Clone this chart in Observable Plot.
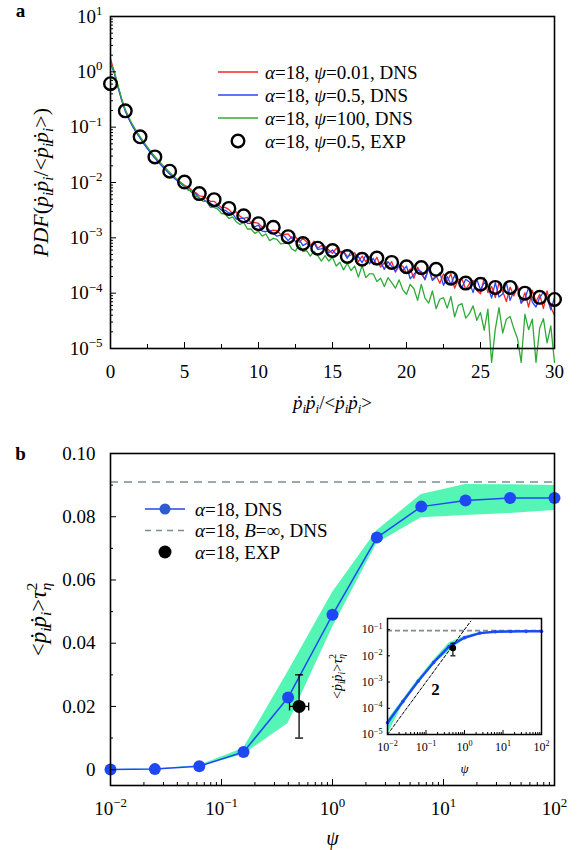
<!DOCTYPE html>
<html><head><meta charset="utf-8">
<script src="https://cdn.jsdelivr.net/npm/d3@7"></script>
<script src="https://cdn.jsdelivr.net/npm/@observablehq/plot@0.6"></script>
<style>
body{margin:0;background:#fff;}
#fig{position:relative;width:582px;height:850px;background:#fff;font-family:"Liberation Serif","Times New Roman",serif;}
#fig svg{position:absolute;overflow:visible;}
</style></head><body><div id="fig"></div>
<script>
// ---------- Panel a data ----------
const pdfX = [0,0.25,0.5,0.75,1,1.25,1.5,1.75,2,2.25,2.5,2.75,3,3.25,3.5,3.75,4,4.25,4.5,4.75,5,5.25,5.5,5.75,6,6.25,6.5,6.75,7,7.25,7.5,7.75,8,8.25,8.5,8.75,9,9.25,9.5,9.75,10,10.25,10.5,10.75,11,11.25,11.5,11.75,12,12.25,12.5,12.75,13,13.25,13.5,13.75,14,14.25,14.5,14.75,15,15.25,15.5,15.75,16,16.25,16.5,16.75,17,17.25,17.5,17.75,18,18.25,18.5,18.75,19,19.25,19.5,19.75,20,20.25,20.5,20.75,21,21.25,21.5,21.75,22,22.25,22.5,22.75,23,23.25,23.5,23.75,24,24.25,24.5,24.75,25,25.25,25.5,25.75,26,26.25,26.5,26.75,27,27.25,27.5,27.75,28,28.25,28.5,28.75,29,29.25,29.5,29.75,30];
// log10 of PDF
const pdfRedLog10 = [0.24,0.00,-0.26,-0.50,-0.70,-0.85,-0.98,-1.09,-1.19,-1.29,-1.38,-1.47,-1.55,-1.62,-1.69,-1.76,-1.83,-1.89,-1.95,-2.00,-2.05,
-2.08,-2.14,-2.18,-2.24, -2.25,-2.29,-2.34,-2.34, -2.40,-2.45,-2.45,-2.49, -2.56,-2.53,-2.61,-2.65, -2.63,-2.74,-2.72,-2.74,
-2.81,-2.78,-2.88,-2.86, -2.87,-2.94,-2.94,-2.93, -3.01,-2.98,-3.08,-3.01, -3.07,-3.14,-3.06,-3.19, -3.14,-3.15,-3.22,-3.28,
-3.19,-3.27,-3.24,-3.34, -3.31,-3.27,-3.43,-3.33, -3.43,-3.34,-3.47,-3.35, -3.53,-3.45,-3.52,-3.43, -3.62,-3.50,-3.51,-3.64,
-3.56,-3.73,-3.53,-3.66, -3.74,-3.55,-3.76,-3.68, -3.82,-3.65,-3.79,-3.65, -3.91,-3.75,-3.75,-3.93, -3.83,-3.77,-3.95,-4.01,
-3.72,-3.99,-3.88,-4.08, -3.82,-3.97,-4.15,-3.89, -4.05,-3.87,-4.18,-3.99, -4.25,-3.95,-4.15,-4.02, -4.28,-3.96,-4.26,-4.40];
const pdfBlueLog10 = [0.15,-0.02,-0.27,-0.51,-0.71,-0.86,-0.99,-1.10,-1.20,-1.30,-1.39,-1.48,-1.56,-1.64,-1.71,-1.78,-1.85,-1.91,-1.97,-2.02,-2.07,
-2.12,-2.18,-2.20,-2.29, -2.30,-2.35,-2.37,-2.43, -2.44,-2.50,-2.50,-2.55, -2.56,-2.66,-2.65,-2.65, -2.74,-2.74,-2.80,-2.77,
-2.88,-2.89,-2.86,-2.92, -2.97,-2.95,-2.97,-3.05, -2.98,-3.07,-3.03,-3.14, -3.10,-3.16,-3.09,-3.21, -3.20,-3.16,-3.27,-3.22,
-3.30,-3.24,-3.26,-3.37, -3.25,-3.38,-3.34,-3.45, -3.31,-3.47,-3.37,-3.49, -3.43,-3.57,-3.43,-3.51, -3.60,-3.51,-3.59,-3.51,
-3.74,-3.66,-3.58,-3.61, -3.76,-3.55,-3.77,-3.71, -3.63,-3.86,-3.70,-3.84, -3.68,-3.81,-3.90,-3.75, -3.80,-3.99,-3.75,-3.94,
-3.81,-3.88,-4.09,-3.81, -4.07,-4.01,-3.81,-4.13, -3.96,-3.91,-4.18,-4.10, -3.90,-4.16,-4.25,-4.08, -3.98,-4.08,-4.30,-4.08];
const pdfGreenLog10 = [0.16,0.01,-0.24,-0.48,-0.68,-0.83,-0.96,-1.07,-1.17,-1.27,-1.36,-1.45,-1.53,-1.61,-1.68,-1.75,-1.82,-1.88,-1.94,-2.00,-2.06,
-2.14,-2.14,-2.25,-2.27, -2.34,-2.34,-2.45,-2.45, -2.48,-2.56,-2.57,-2.65, -2.62,-2.71,-2.76,-2.72, -2.84,-2.84,-2.92,-2.88,
-2.97,-2.93,-3.05,-3.01, -3.03,-3.11,-3.10,-3.09, -3.20,-3.24,-3.12,-3.25, -3.23,-3.33,-3.24,-3.32, -3.42,-3.32,-3.42,-3.35,
-3.51,-3.44,-3.58,-3.46, -3.59,-3.51,-3.71,-3.50, -3.72,-3.65,-3.65,-3.79, -3.73,-3.88,-3.72,-3.81, -3.91,-3.76,-3.94,-4.02,
-3.84,-3.92,-4.13,-3.84, -4.09,-4.18,-3.96,-4.28, -4.11,-4.08,-4.27,-4.06, -4.43,-4.22,-4.19,-4.45, -4.37,-4.23,-4.49,-4.35,
-4.67,-4.29,-5.25,-4.65, -4.26,-4.72,-4.47,-4.42, -4.64,-4.82,-5.25,-4.38, -4.66,-4.47,-5.25,-4.63, -4.46,-4.90,-4.59,-5.25];
const expX = [0,1,2,3,4,5,6,7,8,9,10,11,12,13,14,15,16,17,18,19,20,21,22,23,24,25,26,27,28,29,30];
const expPdf = [0.61,0.197,0.067,0.029,0.016,0.0102,0.0063,0.0049,0.0034,0.0025,0.0018,0.00155,0.00105,0.00079,0.00065,0.00059,0.00046,0.00041,0.00043,0.00036,0.0003,0.00029,0.00027,0.000186,0.000152,0.000145,0.000127,0.000127,0.0001,0.000084,0.000077];
const legendA = ["*α*=18, *ψ*=0.01, DNS","*α*=18, *ψ*=0.5, DNS","*α*=18, *ψ*=100, DNS","*α*=18, *ψ*=0.5, EXP"];
const pdfYTicks = [1e-5,1e-4,1e-3,1e-2,1e-1,1,10];
const pdfYTickLabels = ["10^{−5}","10^{−4}","10^{−3}","10^{−2}","10^{−1}","10^{0}","10^{1}"];
const pdfXTicks = [0,5,10,15,20,25,30];
const pdfXTickLabels = ["0","5","10","15","20","25","30"];
const pdfXMinor = [2.5,7.5,12.5,17.5,22.5,27.5];

// ---------- Panel b data ----------
const psi = [0.01,0.0251,0.0631,0.158,0.398,1.0,2.51,6.31,15.8,39.8,100];
const dnsMean = [0.000028,0.00018,0.0011,0.0056,0.0228,0.049,0.0734,0.0832,0.0851,0.0859,0.0859];
const dnsLow  = [0.00001,0.00014,0.0009,0.0048,0.0146,0.045,0.0715,0.0797,0.0804,0.081,0.082];
const dnsHigh = [0.000035,0.00021,0.0013,0.0068,0.031,0.056,0.0756,0.087,0.0902,0.0901,0.0899];
const bInfValue = [0.091];
const expPsi = [0.5], expPsiLo = [0.41], expPsiHi = [0.61];
const expVal = [0.02], expValLo = [0.01], expValHi = [0.03];
const slopeGuidePsi = [0.01, 1.45];
const slopeGuideVal = [1e-5, 0.21];
const slopeLabel = ["2"], slopeLabelPsi = [0.177], slopeLabelVal = [5.4e-4];
const legendB = ["*α*=18, DNS","*α*=18, *B*=∞, DNS","*α*=18, EXP"];
const bYTicks = [0,0.02,0.04,0.06,0.08,0.10];
const bYTickLabels = ["0","0.02","0.04","0.06","0.08","0.10"];
const bYMinor = [0.01,0.03,0.05,0.07,0.09];
const psiTicks = [0.01,0.1,1,10,100];
const psiTickLabels = ["10^{−2}","10^{−1}","10^{0}","10^{1}","10^{2}"];
const insetYTicks = [1e-5,1e-4,1e-3,1e-2,1e-1];
const insetYTickLabels = ["10^{−5}","10^{−4}","10^{−3}","10^{−2}","10^{−1}"];

// ---------- styling ----------
const FONT = "Liberation Serif";
const RED = "#ff2222", BLUE = "#2846ff", GREEN = "#2eab36";
const DBLUE = "#1f48f5", BAND = "#55f6b5", DASHGRAY = "#7c8d97";

function minorLog(lo, hi) { const out = []; for (let e = lo; e < hi; e++) for (let k = 2; k <= 9; k++) out.push(k * Math.pow(10, e)); return out; }
const lookup = (ticks, labels) => d => labels[ticks.indexOf(d)];

function richify(root) {
  root.querySelectorAll("text").forEach(t => {
    const s = t.textContent;
    if (!/[*_^]/.test(s)) return;
    const fs = parseFloat(getComputedStyle(t).fontSize) || 16;
    const segs = []; let it = false, pos = 0, buf = "";
    const push = () => { if (buf) segs.push({text: buf, it, pos}); buf = ""; };
    for (let i = 0; i < s.length; i++) {
      const c = s[i];
      if (c === "*") { push(); it = !it; }
      else if ((c === "_" || c === "^") && s[i + 1] === "{") { push(); pos = c === "_" ? -1 : 1; i++; }
      else if (c === "}" && pos !== 0) { push(); pos = 0; }
      else buf += c;
    }
    push();
    while (t.firstChild) t.removeChild(t.firstChild);
    let cur = 0, prev = null, prevSeg = null;
    for (const sg of segs) {
      const ts = document.createElementNS("http://www.w3.org/2000/svg", "tspan");
      const off = sg.pos === 1 ? -0.40 * fs : sg.pos === -1 ? 0.24 * fs : 0;
      if (off !== cur) ts.setAttribute("dy", (off - cur).toFixed(2));
      cur = off;
      if (sg.pos) ts.setAttribute("font-size", (0.68 * fs).toFixed(2));
      if (sg.it) ts.setAttribute("font-style", "italic");
      ts.textContent = sg.text;
      t.appendChild(ts);
      if (sg.pos === 1 && prevSeg && prevSeg.pos === -1 && prev) ts.setAttribute("dx", (-prev.getComputedTextLength()).toFixed(2));
      prev = ts; prevSeg = sg;
    }
  });
}

function legendMark(items, o) {
  return () => {
    const g = d3.create("svg:g").attr("font-family", FONT).attr("font-size", o.fontSize).attr("fill", "#000").attr("text-anchor", "start");
    items.forEach((it, i) => {
      const y = o.y0 + i * o.dy;
      if (it.line) g.append("line").attr("x1", o.x1).attr("x2", o.x2).attr("y1", y).attr("y2", y)
        .attr("stroke", it.line).attr("stroke-width", it.lw || 1.5).attr("stroke-dasharray", it.dash || null);
      if (it.r) g.append("circle").attr("cx", (o.x1 + o.x2) / 2).attr("cy", y).attr("r", it.r)
        .attr("fill", it.fill || "none").attr("stroke", it.stroke || "none").attr("stroke-width", it.sw || 0);
      g.append("text").attr("x", o.tx).attr("y", y).attr("dy", "0.35em").attr("text-anchor", "start").text(it.label);
    });
    return g.node();
  };
}

const capH = {draw(ctx) { ctx.moveTo(-4, 0); ctx.lineTo(4, 0); }};
const capV = {draw(ctx) { ctx.moveTo(0, -4); ctx.lineTo(0, 4); }};
const capHs = {draw(ctx) { ctx.moveTo(-2.5, 0); ctx.lineTo(2.5, 0); }};

const fig = document.getElementById("fig");
function place(svg, left, top) { svg.style.left = left + "px"; svg.style.top = top + "px"; fig.appendChild(svg); richify(svg); }

const baseStyle = {background: "transparent", fontFamily: FONT, color: "#000", overflow: "visible"};

// ---------- Panel a ----------
const rowsOf = arr => pdfX.map((x, i) => ({x, y: Math.pow(10, arr[i])}));
const expRowsA = expX.map((x, i) => ({x, y: expPdf[i]}));
const plotA = Plot.plot({
  width: 582, height: 420, marginLeft: 110, marginRight: 28, marginTop: 16, marginBottom: 72,
  style: {...baseStyle, fontSize: "19px"},
  x: {domain: [0, 30]},
  y: {type: "log", domain: [1e-5, 10]},
  marks: [
    Plot.line(rowsOf(pdfRedLog10), {x: "x", y: "y", stroke: RED, strokeWidth: 1.3}),
    Plot.line(rowsOf(pdfBlueLog10), {x: "x", y: "y", stroke: BLUE, strokeWidth: 1.3}),
    Plot.line(rowsOf(pdfGreenLog10), {x: "x", y: "y", stroke: GREEN, strokeWidth: 1.3}),
    Plot.dot(expRowsA, {x: "x", y: "y", r: 6.3, stroke: "#000", strokeWidth: 2.4, fill: "none"}),
    Plot.frame({stroke: "#000", strokeWidth: 1.6}),
    Plot.axisY(minorLog(-5, 1), {anchor: "left", tickSize: -3, fill: "none", label: null}),
    Plot.axisY(pdfYTicks, {anchor: "left", tickSize: -6, fill: "none", label: null}),
    Plot.axisY(pdfYTicks, {anchor: "left", tickSize: 0, tickPadding: 8, fontSize: 19, tickFormat: lookup(pdfYTicks, pdfYTickLabels), label: null}),
    Plot.axisX(pdfXMinor, {anchor: "bottom", tickSize: -4, fill: "none", label: null}),
    Plot.axisX(pdfXTicks, {anchor: "bottom", tickSize: -6, fill: "none", label: null}),
    Plot.axisX(pdfXTicks, {anchor: "bottom", tickSize: 0, tickPadding: 16, fontSize: 19, tickFormat: lookup(pdfXTicks, pdfXTickLabels), label: null}),
    Plot.text(["*PDF*(*ṗ*_{*i*}*ṗ*_{*i*}/<*ṗ*_{*i*}*ṗ*_{*i*}>)"], {frameAnchor: "left", dx: -70, rotate: -90, text: d => d, fontSize: 22, textAnchor: "middle", lineAnchor: "middle"}),
    Plot.text(["*ṗ*_{*i*}*ṗ*_{*i*}/<*ṗ*_{*i*}*ṗ*_{*i*}>"], {frameAnchor: "bottom", dy: 54, text: d => d, fontSize: 19, textAnchor: "middle", lineAnchor: "middle"}),
    Plot.text(["a"], {frameAnchor: "top-left", dx: -90, dy: -5.5, text: d => d, fontSize: 19, fontWeight: "bold", textAnchor: "middle", lineAnchor: "middle"}),
    legendMark([
      {line: RED, label: legendA[0]},
      {line: BLUE, label: legendA[1]},
      {line: GREEN, label: legendA[2]},
      {r: 6.3, stroke: "#000", sw: 2.4, label: legendA[3]}
    ], {x1: 218, x2: 258, tx: 265, y0: 72, dy: 23, fontSize: 19})
  ]
});
place(plotA, 0, 0);

// ---------- Panel b ----------
const dnsRows = psi.map((p, i) => ({psi: p, mean: dnsMean[i], lo: dnsLow[i], hi: dnsHigh[i]}));
const expRowsB = expPsi.map((p, i) => ({psi: p, lo: expPsiLo[i], hi: expPsiHi[i], val: expVal[i], vlo: expValLo[i], vhi: expValHi[i]}));
const plotB = Plot.plot({
  width: 582, height: 430, marginLeft: 110, marginRight: 28, marginTop: 33, marginBottom: 65,
  style: {...baseStyle, fontSize: "19px"},
  x: {type: "log", domain: [0.01, 100]},
  y: {domain: [-0.005, 0.10]},
  marks: [
    Plot.areaY(dnsRows, {x: "psi", y1: "lo", y2: "hi", fill: BAND}),
    Plot.ruleY(bInfValue, {stroke: DASHGRAY, strokeWidth: 1.5, strokeDasharray: "8,6"}),
    Plot.line(dnsRows, {x: "psi", y: "mean", stroke: DBLUE, strokeWidth: 1.5}),
    Plot.dot(dnsRows, {x: "psi", y: "mean", r: 6, fill: DBLUE}),
    Plot.ruleX(expRowsB, {x: "psi", y1: "vlo", y2: "vhi", stroke: "#000", strokeWidth: 1.3}),
    Plot.dot(expRowsB, {x: "psi", y: "vlo", symbol: capH, stroke: "#000", strokeWidth: 1.3}),
    Plot.dot(expRowsB, {x: "psi", y: "vhi", symbol: capH, stroke: "#000", strokeWidth: 1.3}),
    Plot.ruleY(expRowsB, {y: "val", x1: "lo", x2: "hi", stroke: "#000", strokeWidth: 1.3}),
    Plot.dot(expRowsB, {x: "lo", y: "val", symbol: capV, stroke: "#000", strokeWidth: 1.3}),
    Plot.dot(expRowsB, {x: "hi", y: "val", symbol: capV, stroke: "#000", strokeWidth: 1.3}),
    Plot.dot(expRowsB, {x: "psi", y: "val", r: 6.5, fill: "#000"}),
    Plot.frame({stroke: "#000", strokeWidth: 1.6}),
    Plot.axisY(bYMinor, {anchor: "left", tickSize: -3, fill: "none", label: null}),
    Plot.axisY(bYTicks, {anchor: "left", tickSize: -6, fill: "none", label: null}),
    Plot.axisY(bYTicks, {anchor: "left", tickSize: 0, tickPadding: 15, fontSize: 19, tickFormat: lookup(bYTicks, bYTickLabels), label: null}),
    Plot.axisX(minorLog(-2, 2), {anchor: "bottom", tickSize: -3, fill: "none", label: null}),
    Plot.axisX(psiTicks, {anchor: "bottom", tickSize: -6, fill: "none", label: null}),
    Plot.axisX(psiTicks, {anchor: "bottom", tickSize: 0, tickPadding: 16, fontSize: 19, tickFormat: lookup(psiTicks, psiTickLabels), label: null}),
    Plot.text(["<*ṗ*_{*i*}*ṗ*_{*i*}>*τ*_{*η*}^{2}"], {frameAnchor: "left", dx: -72, rotate: -90, text: d => d, fontSize: 23, textAnchor: "middle", lineAnchor: "middle"}),
    Plot.text(["*ψ*"], {frameAnchor: "bottom", dy: 53, text: d => d, fontSize: 20, textAnchor: "middle", lineAnchor: "middle"}),
    Plot.text(["b"], {frameAnchor: "top-left", dx: -90, dy: 0, text: d => d, fontSize: 19, fontWeight: "bold", textAnchor: "middle", lineAnchor: "middle"}),
    legendMark([
      {line: DBLUE, r: 5.5, fill: "#2e5bd0", label: legendB[0]},
      {line: DASHGRAY, dash: "6,5", label: legendB[1]},
      {r: 6.5, fill: "#000", label: legendB[2]}
    ], {x1: 145, x2: 185, tx: 195, y0: 89, dy: 21.5, fontSize: 19})
  ]
});
place(plotB, 0, 420);

// ---------- Inset ----------
const slopeRows = slopeGuidePsi.map((p, i) => ({psi: p, v: slopeGuideVal[i]}));
const labelRows = slopeLabel.map((t, i) => ({t, psi: slopeLabelPsi[i], v: slopeLabelVal[i]}));
const plotI = Plot.plot({
  width: 230, height: 175, marginLeft: 67, marginRight: 9, marginTop: 18, marginBottom: 41,
  style: {...baseStyle, fontSize: "12px"},
  x: {type: "log", domain: [0.01, 100]},
  y: {type: "log", domain: [1e-5, 0.265]},
  marks: [
    Plot.areaY(dnsRows, {x: "psi", y1: "lo", y2: "hi", fill: BAND}),
    Plot.ruleY(bInfValue, {stroke: DASHGRAY, strokeWidth: 1.8, strokeDasharray: "5,3"}),
    Plot.line(slopeRows, {x: "psi", y: "v", stroke: "#000", strokeWidth: 1, strokeDasharray: "3,2"}),
    Plot.line(dnsRows, {x: "psi", y: "mean", stroke: DBLUE, strokeWidth: 2.5}),
    Plot.dot(dnsRows, {x: "psi", y: "mean", r: 1.8, fill: DBLUE}),
    Plot.ruleX(expRowsB, {x: "psi", y1: "vlo", y2: "vhi", stroke: "#000", strokeWidth: 1.2}),
    Plot.dot(expRowsB, {x: "psi", y: "vlo", symbol: capHs, stroke: "#000", strokeWidth: 1.2}),
    Plot.dot(expRowsB, {x: "psi", y: "vhi", symbol: capHs, stroke: "#000", strokeWidth: 1.2}),
    Plot.ruleY(expRowsB, {y: "val", x1: "lo", x2: "hi", stroke: "#000", strokeWidth: 1.2}),
    Plot.dot(expRowsB, {x: "psi", y: "val", r: 3.2, fill: "#000"}),
    Plot.text(labelRows, {x: "psi", y: "v", text: "t", fontSize: 17, fontWeight: "bold"}),
    Plot.frame({stroke: "#000", strokeWidth: 1.5}),
    Plot.axisY(insetYTicks, {anchor: "left", tickSize: -3, fill: "none", label: null}),
    Plot.axisY(insetYTicks, {anchor: "left", tickSize: 0, tickPadding: 5, fontSize: 12, tickFormat: lookup(insetYTicks, insetYTickLabels), label: null}),
    Plot.axisX(minorLog(-2, 2), {anchor: "bottom", tickSize: -2, fill: "none", label: null}),
    Plot.axisX(psiTicks, {anchor: "bottom", tickSize: -4, fill: "none", label: null}),
    Plot.axisX(psiTicks, {anchor: "bottom", tickSize: 0, tickPadding: 8, fontSize: 12, tickFormat: lookup(psiTicks, psiTickLabels), label: null}),
    Plot.text(["<*ṗ*_{*i*}*ṗ*_{*i*}>*τ*_{*η*}^{2}"], {frameAnchor: "left", dx: -50, rotate: -90, text: d => d, fontSize: 14, textAnchor: "middle", lineAnchor: "middle"}),
    Plot.text(["*ψ*"], {frameAnchor: "bottom", dy: 34, text: d => d, fontSize: 13, textAnchor: "middle", lineAnchor: "middle"})
  ]
});
place(plotI, 320, 600);
</script></body></html>
